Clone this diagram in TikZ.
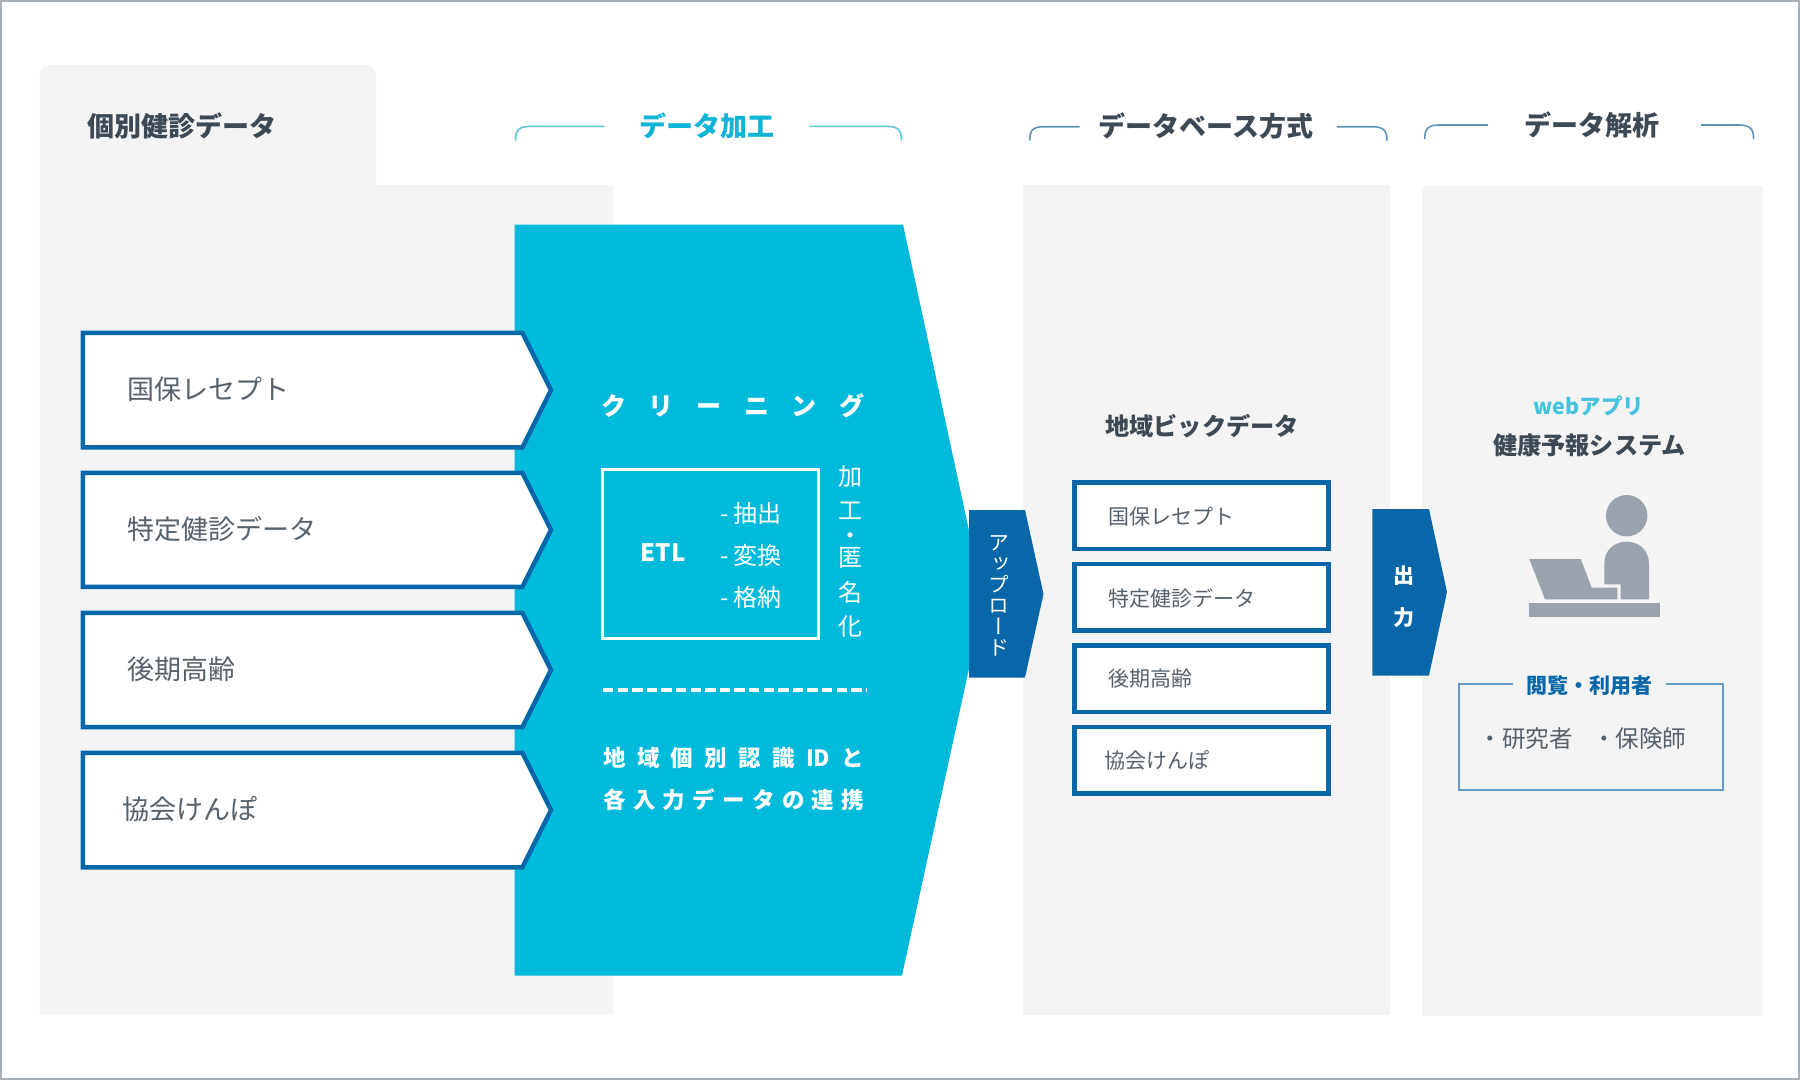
\documentclass[tikz,border=0pt]{standalone}
\usepackage{fontspec}
\setmainfont{Noto Sans CJK JP}
\newfontfamily\vfont[RawFeature=+vert]{Noto Sans CJK JP}
\setlength\lineskiplimit{-100pt}
\definecolor{panelgray}{HTML}{F4F4F5}
\definecolor{cyanmain}{HTML}{00BADC}
\definecolor{cyanhead}{HTML}{10B4D6}
\definecolor{webcyan}{HTML}{45C3DF}
\definecolor{bluemain}{HTML}{0767A9}
\definecolor{inkdark}{HTML}{3D4954}
\definecolor{inkmid}{HTML}{56616B}
\definecolor{figgray}{HTML}{9AA2AE}
\definecolor{framegray}{HTML}{A6AEB6}
\definecolor{brcyan}{HTML}{5CC6DE}
\definecolor{brblue}{HTML}{5B95BA}
\definecolor{boxline}{HTML}{5E9DC8}
\tikzset{
  panel/.style={fill=panelgray,draw=none},
  inbox/.style={draw=bluemain,fill=white,line width=4.5pt,miter limit=10},
  bigtext/.style={anchor=west,text=inkmid,font=\fontsize{27}{30}\selectfont,inner sep=0pt},
  smalltext/.style={anchor=west,text=inkmid,font=\fontsize{21}{24}\selectfont,inner sep=0pt},
  headtext/.style={text=inkdark,font=\fontsize{27}{30}\bfseries\selectfont,inner sep=0pt},
  subhead/.style={text=inkdark,font=\fontsize{24.2}{28}\bfseries\selectfont,inner sep=0pt},
  whitetext/.style={text=white,font=\fontsize{23}{28}\selectfont,inner sep=0pt},
  whitebold/.style={text=white,font=\fontsize{22.5}{28}\bfseries\selectfont,inner sep=0pt,anchor=west},
  arrowblue/.style={fill=bluemain,draw=none},
  bracketcyan/.style={draw=brcyan,line width=1.6pt},
  bracketblue/.style={draw=brblue,line width=1.6pt},
  figure/.style={fill=figgray,draw=none}
}
\begin{document}
\begin{tikzpicture}[x=1pt,y=-1pt]
\useasboundingbox (0,0) rectangle (1800,1080);
\fill[white] (0,0) rectangle (1800,1080);
\draw[framegray,line width=2pt] (1,1) rectangle (1799,1079);

% panels
\path[panel] (39.6,1014.5) -- (39.6,77) .. controls (39.6,69) and (44,65) .. (52,65) -- (364,65) .. controls (372,65) and (376,69) .. (376,77) -- (376,185) -- (612.5,185) -- (612.5,1014.5) -- cycle;
\path[panel] (1022.8,185) rectangle (1389.7,1014.7);
\path[panel] (1422.4,186.3) rectangle (1763.4,1016);

% headings
\node[headtext,anchor=west] (hkobetsu) at (87,125.7) {個別健診データ};
\node[headtext,text=cyanhead] (hkako) at (707,126) {データ加工};
\node[headtext] (hdb) at (1206,126) {データベース方式};
\node[headtext] (hkaiseki) at (1592,124.7) {データ解析};

\draw[bracketcyan] (515.5,140.5) .. controls (515.5,130) and (519,126.4) .. (530,126.4) -- (604.5,126.4);
\draw[bracketcyan] (809.4,126.4) -- (887,126.4) .. controls (898,126.4) and (901.5,130) .. (901.5,140.5);
\draw[bracketblue] (1029.7,140.5) .. controls (1029.7,130) and (1033,126.7) .. (1044,126.7) -- (1079.7,126.7);
\draw[bracketblue] (1337,126.7) -- (1372,126.7) .. controls (1383,126.7) and (1387,130) .. (1387,140.5);
\draw[bracketblue] (1424.7,139) .. controls (1424.7,129) and (1428,125) .. (1439,125) -- (1488,125);
\draw[bracketblue] (1701,125) -- (1739,125) .. controls (1750,125) and (1753.6,129) .. (1753.6,139);

% cyan block
\path[fill=cyanmain] (514.5,224.5) -- (903,224.5) -- (984,600) -- (902,975.6) -- (514.5,975.6) -- cycle;

% input pentagons
\foreach \t/\b in {330.6/449.7,470.7/589,610.6/729.4,750.7/869.5}{
  \pgfmathsetmacro{\tt}{\t+2.25}
  \pgfmathsetmacro{\bb}{\b-2.25}
  \pgfmathsetmacro{\mm}{(\t+\b)/2}
  \draw[inbox] (82.75,\tt) -- (522.4,\tt) -- (551,\mm) -- (522.4,\bb) -- (82.75,\bb) -- cycle;
}
\node[bigtext] (a1) at (127.4,389.5) {国保レセプト};
\node[bigtext] (a2) at (127.4,529) {特定健診データ};
\node[bigtext] (a3) at (127.4,669.5) {後期高齢};
\node[bigtext] (a4) at (122.5,809) {協会けんぽ};

% cyan block contents
\node[whitebold,font=\fontsize{25}{28}\bfseries\selectfont] (clean) at (601,406) {\makebox[263pt][s]{ク\hfil リ\hfil ー\hfil ニ\hfil ン\hfil グ}};
\draw[white,line width=3pt] (602.5,469.8) rectangle (818.2,638.5);
\node[whitetext,font=\fontsize{24}{28}\bfseries\selectfont] (etl) at (663,553) {ETL};
\node[whitetext,anchor=west,font=\fontsize{24}{28}\selectfont] (e1) at (720,513) {- 抽出};
\node[whitetext,anchor=west,font=\fontsize{24}{28}\selectfont] (e2) at (720,555.5) {- 変換};
\node[whitetext,anchor=west,font=\fontsize{24}{28}\selectfont] (e3) at (720,597) {- 格納};
\node[whitetext,align=center,anchor=north,font=\fontsize{24}{34.5}\selectfont] (anon) at (850,465.3) {加\\工\\[-10pt]・\\[-12pt]匿\\名\\化};
\draw[white,line width=3.2pt,dash pattern=on 10.4pt off 4.2pt] (603,690) -- (866.5,690);
\node[whitebold] (link1) at (603,757.6) {\makebox[261pt][s]{地\hfil 域\hfil 個\hfil 別\hfil 認\hfil 識\hfil ID\hfil と}};
\node[whitebold] (link2) at (603,800) {\makebox[261pt][s]{各\hfil 入\hfil 力\hfil デ\hfil ー\hfil タ\hfil の\hfil 連\hfil 携}};

% upload arrow
\path[arrowblue] (969,510) -- (1025,510) -- (1043.5,594) -- (1025,677.5) -- (969,677.5) -- cycle;
\node[text=white,align=center,inner sep=0pt,font=\vfont\fontsize{21}{21}\selectfont] (upload) at (999.3,596) {ア\\ッ\\プ\\ロ\\ー\\ド};

% DB boxes
\foreach \t/\b in {480.4/551.4,561.6/632.7,643.3/714,724.5/795.5}{
  \pgfmathsetmacro{\tt}{\t+2.25}
  \pgfmathsetmacro{\bb}{\b-2.25}
  \draw[inbox] (1074.45,\tt) rectangle (1328.25,\bb);
}
\node[subhead] (dbtitle) at (1202,426) {地域ビックデータ};
\node[smalltext] (b1) at (1107.8,516.5) {国保レセプト};
\node[smalltext] (b2) at (1107.8,598) {特定健診データ};
\node[smalltext] (b3) at (1107.8,679) {後期高齢};
\node[smalltext] (b4) at (1104.4,760.4) {協会けんぽ};

% output arrow
\path[arrowblue] (1372.4,509) -- (1429,509) -- (1447,592) -- (1429,675.5) -- (1372.4,675.5) -- cycle;
\node[text=white,inner sep=0pt,font=\fontsize{21}{24}\bfseries\selectfont] (o1) at (1404,575.5) {出};
\node[text=white,inner sep=0pt,font=\fontsize{21}{24}\bfseries\selectfont] (o2) at (1404,618) {力};

% analysis
\node[text=webcyan,inner sep=0pt,font=\fontsize{21.5}{24}\bfseries\selectfont] (web) at (1589,406) {webアプリ};
\node[subhead] (yoho) at (1589.5,445) {健康予報システム};
\path[figure] (1626.7,515.7) circle (20.7);
\path[figure] (1604.3,584.3) -- (1604.3,564) .. controls (1604.3,550) and (1614,541.7) .. (1626.7,541.7) .. controls (1639,541.7) and (1649,550) .. (1649,564) -- (1649,599.3) -- (1620.7,599.3) -- (1620.7,584.3) -- cycle;
\path[figure] (1529.3,559) -- (1580.7,559) -- (1591.7,587.7) -- (1617.3,587.7) -- (1617.3,599.3) -- (1545,599.3) -- cycle;
\path[figure] (1529,603) rectangle (1660.3,616.7);

\draw[boxline,line width=2pt] (1513,683.7) -- (1458.5,683.7) -- (1458.5,790) -- (1722.6,790) -- (1722.6,683.7) -- (1666,683.7);
\node[text=bluemain,inner sep=0pt,font=\fontsize{21}{24}\bfseries\selectfont] (users) at (1589,685.7) {閲覧・利用者};
\node[text=inkmid,inner sep=0pt,anchor=west,font=\fontsize{23.6}{28}\selectfont] (roles) at (1478.5,739) {・研究者\hspace{19pt}・保険師};
\end{tikzpicture}
\end{document}
